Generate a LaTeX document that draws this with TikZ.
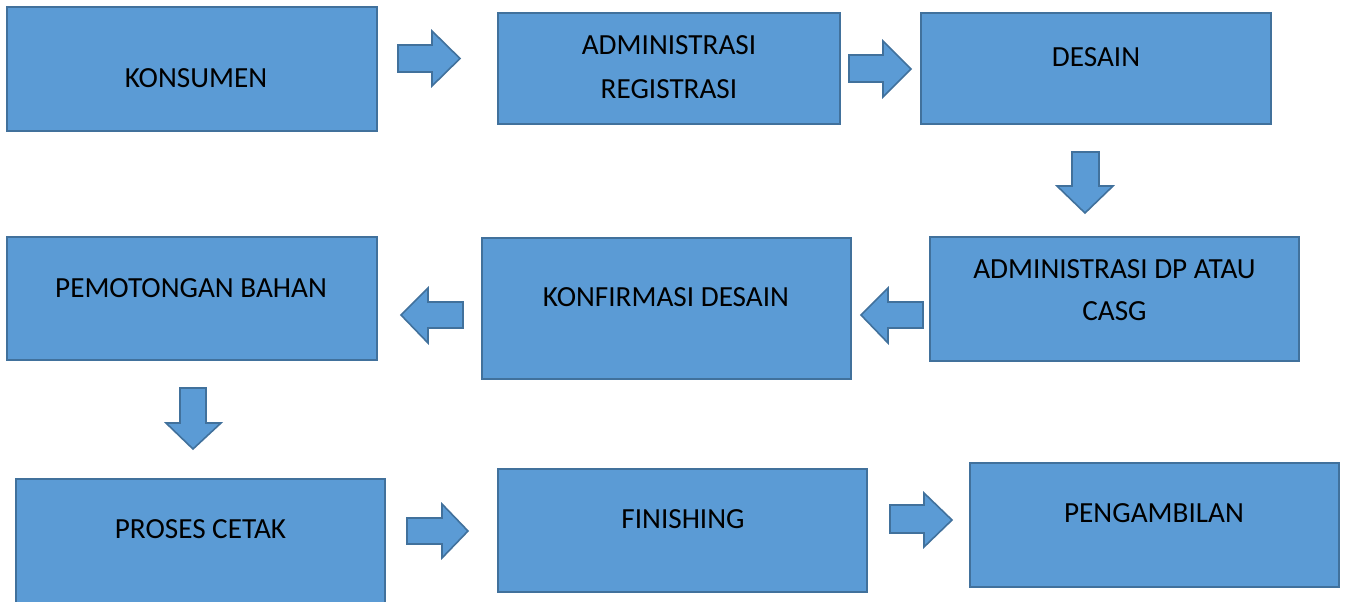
\documentclass[tikz,border=0pt]{standalone}
\usepackage{fontspec}
\setmainfont{Carlito}
\definecolor{boxfill}{HTML}{5B9BD5}
\definecolor{boxline}{HTML}{41719C}
\tikzset{
  box/.style={rectangle, draw=boxline, fill=boxfill, line width=1.5pt, inner sep=0pt},
  lbl/.style={anchor=base, inner sep=0pt, font=\fontsize{21.9}{32}\selectfont, text=black},
  blockarrow/.style={draw=boxline, fill=boxfill, line width=1.2pt, line join=miter}
}
\begin{document}
\begin{tikzpicture}[x=0.75pt,y=-0.75pt]
\useasboundingbox (0,0) rectangle (1347,601);
\clip (0,0) rectangle (1347,601);
\fill[white] (0,0) rectangle (1347,601);
% boxes
\node[box, minimum width=277.5pt, minimum height=93pt]    (konsumen) at (192,69) {};
\node[box, minimum width=256.5pt, minimum height=83.25pt] (admreg)   at (669,68.5) {};
\node[box, minimum width=262.5pt, minimum height=83.25pt] (desain)   at (1096,68.5) {};
\node[box, minimum width=276.75pt, minimum height=93pt]   (admdp)    at (1114.5,299) {};
\node[box, minimum width=276.75pt, minimum height=105.75pt] (konf)   at (666.5,308.5) {};
\node[box, minimum width=277.5pt, minimum height=92.25pt] (pemot)    at (192,298.5) {};
\node[box, minimum width=276.75pt, minimum height=93pt]   (proses)   at (200.5,541) {};
\node[box, minimum width=276.75pt, minimum height=92.25pt] (finish)  at (682.5,530.5) {};
\node[box, minimum width=276.75pt, minimum height=93pt]   (ambil)    at (1154.5,525) {};
% labels
\node[lbl] (t1) at (196,87) {KONSUMEN};
\node[lbl] (t2a) at (669,54) {ADMINISTRASI};
\node[lbl] (t2b) at (669,98) {REGISTRASI};
\node[lbl] (t3) at (1096,66) {DESAIN};
\node[lbl] (t4a) at (1114.5,278) {ADMINISTRASI DP ATAU};
\node[lbl] (t4b) at (1114.5,320) {CASG};
\node[lbl] (t5) at (666,306) {KONFIRMASI DESAIN};
\node[lbl] (t6) at (191,297) {PEMOTONGAN BAHAN};
\node[lbl] (t7) at (200.5,538) {PROSES CETAK};
\node[lbl] (t8) at (683,528) {FINISHING};
\node[lbl] (t9) at (1154,522) {PENGAMBILAN};
% block arrows
\draw[blockarrow] (398,45) -- (432,45) -- (432,31) -- (460,58.5) -- (432,86) -- (432,72) -- (398,72) -- cycle;
\draw[blockarrow] (849,55) -- (883,55) -- (883,41) -- (911,69) -- (883,97) -- (883,82) -- (849,82) -- cycle;
\draw[blockarrow] (1072,152) -- (1099,152) -- (1099,186) -- (1113,186) -- (1085,213) -- (1057,186) -- (1072,186) -- cycle;
\draw[blockarrow] (923,302) -- (888,302) -- (888,288) -- (861,315) -- (888,343) -- (888,328) -- (923,328) -- cycle;
\draw[blockarrow] (463,302) -- (428,302) -- (428,288) -- (401,315) -- (428,343) -- (428,328) -- (463,328) -- cycle;
\draw[blockarrow] (180,388) -- (206,388) -- (206,423) -- (221,423) -- (193,449) -- (166,423) -- (180,423) -- cycle;
\draw[blockarrow] (407,518) -- (442,518) -- (442,504) -- (468,531) -- (442,558) -- (442,544) -- (407,544) -- cycle;
\draw[blockarrow] (890,505) -- (924,505) -- (924,493) -- (952,520) -- (924,547) -- (924,533) -- (890,533) -- cycle;
\end{tikzpicture}
\end{document}
